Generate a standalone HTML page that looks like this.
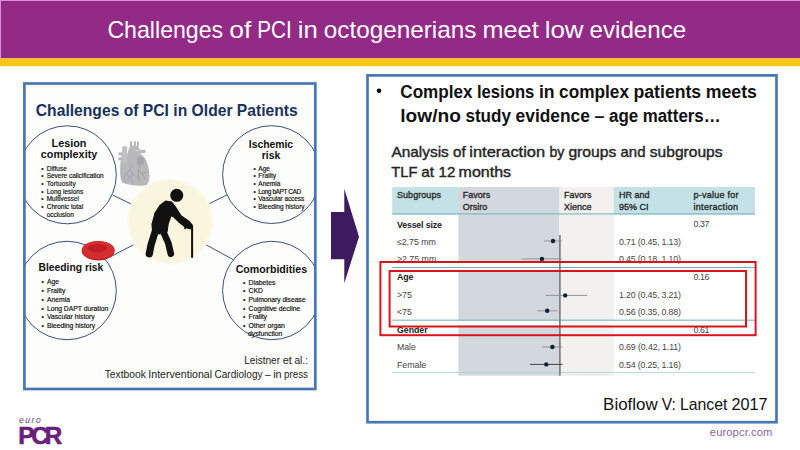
<!DOCTYPE html>
<html><head><meta charset="utf-8"><title>Challenges of PCI in octogenerians meet low evidence</title>
<style>
html,body{margin:0;padding:0;background:#fff;width:800px;height:450px;overflow:hidden}
svg{display:block}
text{font-family:"Liberation Sans",Arial,sans-serif}
.b{font-weight:700}
</style></head><body>
<svg width="800" height="450" viewBox="0 0 800 450">
<!-- header -->
<rect x="0" y="0" width="800" height="58.4" fill="#922a86"/>
<rect x="0" y="0" width="800" height="1" fill="#dc8fd6"/>
<rect x="0" y="0" width="1" height="59" fill="#dc8fd6"/>
<rect x="0" y="58.4" width="800" height="7.8" fill="#f5c614"/>
<text y="37.8" font-size="23.6" fill="#fff"><tspan x="107.4" textLength="115.8" lengthAdjust="spacingAndGlyphs">Challenges</tspan> <tspan x="229.2" textLength="22.1" lengthAdjust="spacingAndGlyphs">of</tspan> <tspan x="257.3" textLength="34.5" lengthAdjust="spacingAndGlyphs">PCI</tspan> <tspan x="297.8" textLength="20.0" lengthAdjust="spacingAndGlyphs">in</tspan> <tspan x="323.8" textLength="152.6" lengthAdjust="spacingAndGlyphs">octogenerians</tspan> <tspan x="482.4" textLength="56.3" lengthAdjust="spacingAndGlyphs">meet</tspan> <tspan x="544.7" textLength="38.9" lengthAdjust="spacingAndGlyphs">low</tspan> <tspan x="589.6" textLength="96.5" lengthAdjust="spacingAndGlyphs">evidence</tspan></text>

<!-- left box -->
<rect x="24.4" y="83.5" width="290.9" height="305.5" fill="#fdfdfb" stroke="#4877b6" stroke-width="2.7"/>
<text x="35.8" y="116" font-size="15.7" class="b" fill="#18325a" textLength="262" lengthAdjust="spacingAndGlyphs">Challenges of PCI in Older Patients</text>

<g id="diagram">
<clipPath id="lbclip"><rect x="25.5" y="85" width="288.8" height="303"/></clipPath>
<g clip-path="url(#lbclip)">
<!-- connectors -->
<g stroke="#37507a" stroke-width="1" fill="none">
<line x1="112.7" y1="195" x2="131.7" y2="204.3"/>
<line x1="207.7" y1="204.5" x2="226.8" y2="195"/>
<line x1="133.7" y1="244.7" x2="110" y2="257"/>
<line x1="206" y1="244.7" x2="233.3" y2="259.7"/>
<circle cx="67.3" cy="174.8" r="49"/>
<circle cx="271.5" cy="174.6" r="48.9"/>
<circle cx="67.1" cy="290.5" r="49.2"/>
<circle cx="271.8" cy="290.5" r="49.2"/>
</g>
</g>
<!-- cream circle -->
<radialGradient id="cream" cx="170.2" cy="221.6" r="44" gradientUnits="userSpaceOnUse"><stop offset="0" stop-color="#faf5de"/><stop offset="0.89" stop-color="#faf5de"/><stop offset="0.96" stop-color="#fcf9ec"/><stop offset="1" stop-color="#fdfdfb" stop-opacity="0"/></radialGradient>
<circle cx="170.2" cy="221.6" r="44" fill="url(#cream)"/>
<!-- heart -->
<g fill="#b8b8bb">
<path d="M121.5,155.5 L120.4,163.6 C119.8,170 120,176 121,180.2 C122,182.5 123,183.3 124.9,183.6 C130,185 135,185.8 140.4,185.8 C143,185.6 145.5,185.3 147.1,184.7 C149,182 149.8,178 149.3,174.7 C149,170 148.6,167 147.7,164.7 C146.5,161 145.5,158.5 143.8,156.9 L140,153 L128,153 L126,154 Z"/>
<path d="M128,155 C127.5,149 130,145.6 134,145.6 C138.5,145.6 140.6,149 140.2,155 Z"/>
<rect x="129.9" y="141.2" width="2.2" height="6" rx="0.8"/>
<rect x="133.8" y="141" width="2.1" height="6" rx="0.8"/>
<rect x="136.9" y="141.4" width="2" height="6" rx="0.8"/>
<rect x="118.2" y="152.4" width="5" height="2.8" rx="0.8"/>
<rect x="118.2" y="157.4" width="5" height="2.8" rx="0.8"/>
<rect x="139.5" y="149.7" width="6" height="3.3" rx="0.8"/>
<rect x="141" y="159.7" width="4" height="2.3" rx="0.8"/>
</g>
<rect x="122.1" y="146.3" width="5" height="16.5" rx="1" fill="#c1c1c4"/>
<path d="M134.5,150.8 C136,150 138,150 139.5,150.8" stroke="#dcdcde" stroke-width="0.8" fill="none"/>
<path d="M136.6,157.5 L141,156.3 L143.8,158.5 L144.5,163 L141.5,165.5 L137.5,164.5 Z" fill="#a9a5aa"/>
<g fill="none" stroke-width="0.5">
<path d="M131.5,165.8 L130,170 L126,173.5 L123.5,178 L125.5,182.5 M130,170 L132.5,174 L130.5,178.5 L133.5,183 M126,173.5 L129,177 L127.5,181 M132.5,174 L135,176" stroke="#7a8dae"/>
<path d="M139.5,165.5 L138.5,170.5 L138.3,176 L139,181.5 M138.5,170.5 L142.5,173.5 L145,179 M142.5,173.5 L146,172" stroke="#ad7880"/>
</g>
<!-- figure -->
<g fill="#111" stroke="#111" stroke-linejoin="round" stroke-linecap="round">
<path d="M165.6,201.2 L171.6,202.1 L175,206.4 L181,215.8 L189.6,221.8 L192.1,225.2 L192.1,227.4 L190.4,228.8 L186.2,227.7 L179.3,222.3 L173.3,216.6 L171.1,215.4 L168.2,223.5 L167,232 L159,234 L152.5,230 L152,224.3 L155,213.2 L160.2,205.2 Z" stroke-width="1.2"/>
<path d="M156 229 L151 245 L149.3 253.8" fill="none" stroke-width="7.2"/>
<path d="M162.5 230 L168.3 243 L170.8 253.8" fill="none" stroke-width="6.6"/>
</g>
<path d="M192.1 257.8 L192.1 226.5 Q191.8 224.5 189 225 L185.5 226.8 L185 229" fill="none" stroke="#111" stroke-width="2"/>
<circle cx="176.75" cy="195.3" r="6.5" fill="#111"/>
<!-- RBC -->
<ellipse cx="98.2" cy="250.7" rx="16.6" ry="9.7" fill="#c41f25"/>
<ellipse cx="98.2" cy="250" rx="16.1" ry="8.9" fill="#d62d30"/>
<ellipse cx="97.4" cy="248.3" rx="9.8" ry="4.2" fill="#c01d26"/>

<!-- circle texts -->
<g class="b" fill="#111" text-anchor="middle">
<text x="69" y="146.7" font-size="10.8">Lesion</text>
<text x="69" y="157.9" font-size="10.8" textLength="56.5">complexity</text>
<text x="271" y="147.9" font-size="10.4" textLength="44.3">Ischemic</text>
<text x="271" y="158.7" font-size="10.4">risk</text>
</g>
<g class="b" fill="#111">
<text x="38.5" y="270.6" font-size="10.3" textLength="64.8">Bleeding risk</text>
<text x="235.7" y="272.9" font-size="10.6" textLength="71.4">Comorbidities</text>
</g>
<g fill="#111" font-size="6.5" stroke="#111" stroke-width="0.18">
<text x="41.3" y="170.7">•</text><text x="46.7" y="170.7">Diffuse</text>
<text x="41.3" y="178.4">•</text><text x="46.7" y="178.4" textLength="57">Severe calicification</text>
<text x="41.3" y="186">•</text><text x="46.7" y="185.8" textLength="29">Tortuosity</text>
<text x="41.3" y="193.6">•</text><text x="46.7" y="193.6">Long lesions</text>
<text x="41.3" y="201.3">•</text><text x="46.7" y="201.3">Multivessel</text>
<text x="41.3" y="209.3">•</text><text x="46.7" y="209.3">Chronic total</text>
<text x="46.7" y="217">occlusion</text>

<text x="253.5" y="170.6">•</text><text x="258.3" y="170.6">Age</text>
<text x="253.5" y="178.1">•</text><text x="258.3" y="178.1">Frailty</text>
<text x="253.5" y="186">•</text><text x="258.3" y="186">Anemia</text>
<text x="253.5" y="193.6">•</text><text x="258.3" y="193.6" textLength="42.8">Long bAPT CAD</text>
<text x="253.5" y="201.3">•</text><text x="258.3" y="201.3" textLength="46">Vascular access</text>
<text x="253.5" y="209.2">•</text><text x="258.3" y="209.2">Bleeding history</text>
</g>
<g fill="#111" font-size="6.8" stroke="#111" stroke-width="0.18">
<text x="41.5" y="284.3">•</text><text x="46.9" y="284.3">Age</text>
<text x="41.5" y="293.2">•</text><text x="46.9" y="293.2">Frailty</text>
<text x="41.5" y="301.6">•</text><text x="46.9" y="301.6">Anemia</text>
<text x="41.5" y="310.5">•</text><text x="46.9" y="310.5" textLength="61.3">Long DAPT duration</text>
<text x="41.5" y="319.4">•</text><text x="46.9" y="319.4">Vascular history</text>
<text x="41.5" y="328.3">•</text><text x="46.9" y="328.3">Bleeding history</text>

<text x="243" y="285.2">•</text><text x="248.5" y="285.2">Diabetes</text>
<text x="243" y="292.8">•</text><text x="248.5" y="292.8">CKD</text>
<text x="243" y="301.8">•</text><text x="248.5" y="301.8" textLength="57">Pulmonary disease</text>
<text x="243" y="310.7">•</text><text x="248.5" y="310.7">Cognitive decline</text>
<text x="243" y="318.8">•</text><text x="248.5" y="318.8">Frailty</text>
<text x="243" y="328.3">•</text><text x="248.5" y="328.3">Other organ</text>
<text x="248" y="336.2">dysfunction</text>
</g>
</g>
<g fill="#222">
<text y="364.2" font-size="10.3"><tspan x="244.2" textLength="35.9" lengthAdjust="spacingAndGlyphs">Leistner</tspan> <tspan x="282.7" textLength="9.2" lengthAdjust="spacingAndGlyphs">et</tspan> <tspan x="294.4" textLength="13.6" lengthAdjust="spacingAndGlyphs">al.:</tspan></text>
<text y="378.2" font-size="10.3"><tspan x="104.7" textLength="41.1" lengthAdjust="spacingAndGlyphs">Textbook</tspan> <tspan x="148.3" textLength="63.8" lengthAdjust="spacingAndGlyphs">Interventional</tspan> <tspan x="214.5" textLength="48.0" lengthAdjust="spacingAndGlyphs">Cardiology</tspan> <tspan x="265.1" textLength="5.6" lengthAdjust="spacingAndGlyphs">–</tspan> <tspan x="273.2" textLength="8.4" lengthAdjust="spacingAndGlyphs">in</tspan> <tspan x="284.1" textLength="23.9" lengthAdjust="spacingAndGlyphs">press</tspan></text>
</g>

<!-- arrow -->
<path d="M331 212.1 L344.3 212.1 L344.3 188.7 L359 236.7 L344.3 283.3 L344.3 259.3 L331 259.3 Z" fill="#3e1a5f"/>

<!-- right box -->
<rect x="367.5" y="75.4" width="409" height="346.8" fill="#fff" stroke="#4877b6" stroke-width="2.7"/>
<circle cx="379" cy="90.8" r="2.3" fill="#000"/>
<g class="b" fill="#111">
<text y="97.5" font-size="17.6"><tspan x="400.3" textLength="72.2" lengthAdjust="spacingAndGlyphs">Complex</tspan> <tspan x="477.0" textLength="57.3" lengthAdjust="spacingAndGlyphs">lesions</tspan> <tspan x="538.9" textLength="15.7" lengthAdjust="spacingAndGlyphs">in</tspan> <tspan x="559.1" textLength="69.9" lengthAdjust="spacingAndGlyphs">complex</tspan> <tspan x="633.5" textLength="67.7" lengthAdjust="spacingAndGlyphs">patients</tspan> <tspan x="705.7" textLength="51.2" lengthAdjust="spacingAndGlyphs">meets</tspan></text>
<text y="121.5" font-size="17.6"><tspan x="400.3" textLength="60.6" lengthAdjust="spacingAndGlyphs">low/no</tspan> <tspan x="465.4" textLength="45.6" lengthAdjust="spacingAndGlyphs">study</tspan> <tspan x="515.6" textLength="74.3" lengthAdjust="spacingAndGlyphs">evidence</tspan> <tspan x="594.5" textLength="10.0" lengthAdjust="spacingAndGlyphs">–</tspan> <tspan x="609.0" textLength="29.2" lengthAdjust="spacingAndGlyphs">age</tspan> <tspan x="642.7" textLength="78.0" lengthAdjust="spacingAndGlyphs">matters…</tspan></text>
</g>
<g fill="#262626" stroke="#262626" stroke-width="0.4">
<text y="157.2" font-size="14.2"><tspan x="391.4" textLength="57.4" lengthAdjust="spacingAndGlyphs">Analysis</tspan> <tspan x="453.0" textLength="12.6" lengthAdjust="spacingAndGlyphs">of</tspan> <tspan x="469.3" textLength="75.8" lengthAdjust="spacingAndGlyphs">interaction</tspan> <tspan x="549.4" textLength="14.9" lengthAdjust="spacingAndGlyphs">by</tspan> <tspan x="568.4" textLength="48.0" lengthAdjust="spacingAndGlyphs">groups</tspan> <tspan x="620.5" textLength="25.0" lengthAdjust="spacingAndGlyphs">and</tspan> <tspan x="649.8" textLength="72.7" lengthAdjust="spacingAndGlyphs">subgroups</tspan></text>
<text y="176.9" font-size="14.2"><tspan x="391.2" textLength="26.2" lengthAdjust="spacingAndGlyphs">TLF</tspan> <tspan x="421.2" textLength="12.8" lengthAdjust="spacingAndGlyphs">at</tspan> <tspan x="438.5" textLength="16.8" lengthAdjust="spacingAndGlyphs">12</tspan> <tspan x="458.6" textLength="52.5" lengthAdjust="spacingAndGlyphs">months</tspan></text>
</g>

<!-- table -->
<rect x="392.2" y="187" width="362.8" height="27.5" fill="#c3e1e6"/>
<rect x="458.4" y="187" width="100.8" height="188.7" fill="#d3d7de"/>
<rect x="559.2" y="187" width="54.6" height="188.7" fill="#f2f1ef"/>
<rect x="458.4" y="263" width="155.4" height="7" fill="#fff"/>
<rect x="458.4" y="320.5" width="155.4" height="5" fill="#fff"/>
<g fill="#62a6b3">
<rect x="392.2" y="213.4" width="362.8" height="1.1" fill="#78b4bf"/>
<rect x="392.2" y="267" width="362.8" height="0.9"/>
<rect x="392.2" y="319.7" width="362.8" height="0.9"/>
<rect x="392.2" y="372.2" width="362.8" height="0.8" fill="#a9d3da"/>
</g>
<rect x="559.2" y="235" width="1.4" height="140.7" fill="#666"/>
<g stroke="#8a8a8a" stroke-width="0.9">
<line x1="544" y1="241" x2="561.8" y2="241"/>
<line x1="522" y1="258.9" x2="561.8" y2="258.9"/>
<line x1="545.6" y1="295.4" x2="587.3" y2="295.4"/>
<line x1="537.3" y1="310.8" x2="557.6" y2="310.8"/>
<line x1="542.3" y1="347" x2="562.5" y2="347"/>
<line x1="529.9" y1="364.4" x2="562.5" y2="364.4" stroke="#333"/>
</g>
<g fill="#0f2238">
<circle cx="553" cy="241" r="2.2"/>
<circle cx="541.9" cy="258.9" r="2.2"/>
<circle cx="565.2" cy="295.4" r="2.2"/>
<circle cx="547.2" cy="310.8" r="2.2"/>
<circle cx="552.4" cy="347" r="2.2"/>
<circle cx="546.3" cy="364.4" r="2.2"/>
</g>
<g fill="#262626" font-size="9" stroke="#262626" stroke-width="0.32">
<text x="396.9" y="197.7" textLength="44.1">Subgroups</text>
<text x="462.8" y="197.7">Favors</text>
<text x="462.8" y="210.3">Orsiro</text>
<text x="564" y="197.7">Favors</text>
<text x="564" y="210.3">Xience</text>
<text x="619" y="197.7">HR and</text>
<text x="619" y="210.3">95% CI</text>
<text x="693.5" y="197.7" textLength="45">p-value for</text>
<text x="693.5" y="210.3" textLength="44.5">interaction</text>
</g>
<g fill="#222" font-size="8.8" class="b">
<text x="396.9" y="227.5" textLength="45">Vessel size</text>
<text x="396.9" y="280.0">Age</text>
<text x="396.9" y="332.8">Gender</text>
</g>
<g fill="#444" font-size="8.8">
<text x="396.9" y="244.7">≤2.75 mm</text>
<text x="396.9" y="262.4">&gt;2.75 mm</text>
<text x="396.9" y="298.0">&gt;75</text>
<text x="396.9" y="314.8">&lt;75</text>
<text x="396.9" y="350.2">Male</text>
<text x="396.9" y="367.6">Female</text>
<text x="693.5" y="227.4" textLength="15.8">0.37</text>
<text x="693.5" y="280.0" textLength="15.8">0.16</text>
<text x="693.5" y="332.8" textLength="15.8">0.61</text>
<text x="619" y="245.4" textLength="62">0.71 (0.45, 1.13)</text>
<text x="619" y="262.4" textLength="62">0.45 (0.18, 1.10)</text>
<text x="619" y="298.0" textLength="62">1.20 (0.45, 3.21)</text>
<text x="619" y="314.8" textLength="62">0.56 (0.35, 0.88)</text>
<text x="619" y="350.2" textLength="62">0.69 (0.42, 1.11)</text>
<text x="619" y="367.6" textLength="62">0.54 (0.25, 1.16)</text>
</g>
<!-- red highlight rectangles -->
<g fill="none" stroke="#d8141c" stroke-width="2">
<rect x="380.4" y="262" width="375.2" height="73.2"/>
<rect x="389.6" y="271" width="356.4" height="55.5"/>
</g>

<text y="409.6" font-size="16.4" fill="#111"><tspan x="603.1" textLength="54.6" lengthAdjust="spacingAndGlyphs">Bioflow</tspan> <tspan x="661.7" textLength="14.2" lengthAdjust="spacingAndGlyphs">V:</tspan> <tspan x="679.9" textLength="47.6" lengthAdjust="spacingAndGlyphs">Lancet</tspan> <tspan x="731.5" textLength="36.1" lengthAdjust="spacingAndGlyphs">2017</tspan></text>
<text x="772.4" y="435.6" font-size="11.2" fill="#8a6699" text-anchor="end" textLength="62.6">europcr.com</text>

<!-- logo -->
<text x="19" y="422.8" font-size="8.6" font-style="italic" fill="#654575" textLength="21.8">euro</text>
<text y="444" font-size="24.2" class="b" fill="#6a1f7c" stroke="#6a1f7c" stroke-width="0.6" stroke-linejoin="round"><tspan x="18.2">P</tspan><tspan x="31.2">C</tspan><tspan x="44.8">R</tspan></text>
</svg>
</body></html>
